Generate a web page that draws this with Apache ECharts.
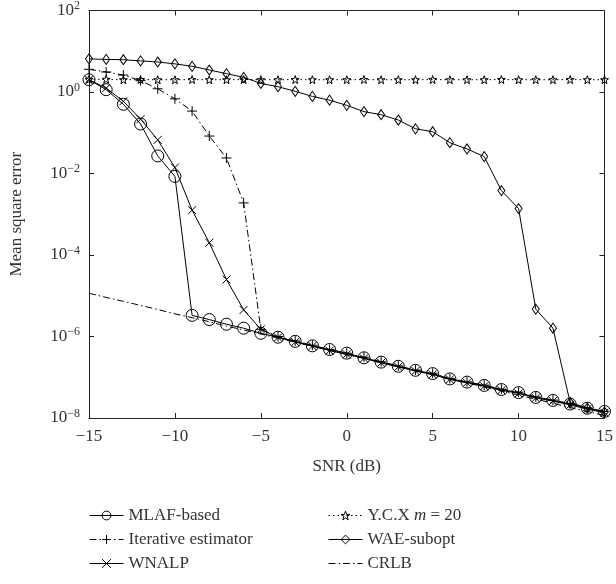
<!DOCTYPE html>
<html>
<head>
<meta charset="utf-8">
<script src="https://cdn.jsdelivr.net/npm/echarts@6/dist/echarts.min.js"></script>
<style>
html,body{margin:0;padding:0;background:#fff;}
#chart{width:616px;height:584px;}
</style>
</head>
<body>
<div id="chart"></div>
<script>
var snr = [-15,-14,-13,-12,-11,-10,-9,-8,-7,-6,-5,-4,-3,-2,-1,0,1,2,3,4,5,6,7,8,9,10,11,12,13,14,15];

var mlaf = [2.0,1.14,0.5,0.164,0.027,0.0085,3.3e-6,2.6e-6,2.0e-6,1.6e-6,1.2e-6,
  9.6e-7,7.6e-7,5.9e-7,4.8e-7,3.9e-7,3.0e-7,2.35e-7,1.86e-7,1.48e-7,1.23e-7,
  9.1e-8,7.6e-8,6.3e-8,5.0e-8,4.2e-8,3.2e-8,2.7e-8,2.2e-8,1.74e-8,1.45e-8];

var iterative = [3.6,3.1,2.6,1.9,1.2,0.68,0.34,0.083,0.024,0.0019,1.5e-6,
  1.0e-6,7.8e-7,6.1e-7,4.8e-7,3.9e-7,3.1e-7,2.4e-7,1.9e-7,1.5e-7,1.25e-7,
  9.3e-8,7.7e-8,6.4e-8,5.1e-8,4.3e-8,3.3e-8,2.75e-8,2.25e-8,1.78e-8,1.45e-8];

var wnalp = [2.0,1.25,0.59,0.216,0.067,0.014,1.26e-3,2.0e-4,2.5e-5,4.5e-6,1.5e-6,
  9.5e-7,7.3e-7,5.8e-7,4.5e-7,3.65e-7,2.9e-7,2.25e-7,1.8e-7,1.42e-7,1.17e-7,
  8.8e-8,7.3e-8,6.0e-8,4.8e-8,4.0e-8,3.1e-8,2.6e-8,2.1e-8,1.65e-8,1.35e-8];

var ycx = [2.05,2.05,2.0,2.02,2.0,2.0,2.02,2.0,2.0,2.02,2.0,2.0,2.02,2.0,2.0,2.0,
  2.02,2.0,2.0,2.0,2.02,2.0,2.0,2.0,2.02,2.0,2.0,2.0,2.02,2.0,2.0];

var wae = [6.5,6.3,6.2,5.8,5.45,4.9,4.27,3.47,2.82,2.29,1.62,1.35,1.04,0.78,0.63,0.47,
  0.33,0.277,0.205,0.125,0.106,0.057,0.040,0.026,0.0038,0.00138,4.7e-6,1.6e-6,2.4e-8,1.75e-8,1.4e-8];

var crlb = [1.15e-5,9.1e-6,7.3e-6,5.8e-6,4.6e-6,3.6e-6,2.9e-6,2.3e-6,1.8e-6,1.45e-6,1.15e-6,
  9.1e-7,7.3e-7,5.8e-7,4.6e-7,3.6e-7,2.9e-7,2.3e-7,1.8e-7,1.45e-7,1.15e-7,
  9.1e-8,7.3e-8,5.8e-8,4.6e-8,3.6e-8,2.9e-8,2.3e-8,1.8e-8,1.45e-8,1.15e-8];

var xTicks = [-15,-10,-5,0,5,10,15];
var yTickExps = [-8,-6,-4,-2,0,2];

var seriesNames = ['MLAF-based','Iterative estimator','WNALP','Y.C.X m = 20','WAE-subopt','CRLB'];

function pairs(ys){ return snr.map(function(x,i){ return [x, ys[i]]; }); }

var FONT = 'Liberation Serif';
var PLUS = 'path://M5,0L5,10M0,5L10,5';
var CROSS = 'path://M0,0L10,10M10,0L0,10';
var STAR = 'path://M10,0L12.35,6.76L19.51,6.91L13.8,11.24L15.88,18.09L10,14L4.12,18.09L6.2,11.24L0.49,6.91L7.65,6.76Z';

function mk(name, data, symbol, size, dash, z, hideMark){
  return {
    name: name, type: 'line', data: pairs(data),
    symbol: symbol, symbolSize: size, showSymbol: !hideMark,
    z: z || 2,
    lineStyle: {color: '#000', width: 1, type: dash},
    itemStyle: {color: 'rgba(0,0,0,0)', borderColor: hideMark ? 'rgba(0,0,0,0)' : '#000', borderWidth: hideMark ? 0 : 1},
    emphasis: {disabled: true},
    animation: false
  };
}

function supLabel(v){
  var e = Math.round(Math.log10(v));
  var s = e < 0 ? '\u2212' + (-e) : String(e);
  return '{b|10}{e|' + s + '}';
}

var axisLineX = {show: true, onZero: false, lineStyle: {color: '#222', width: 1}};
var axisLineY = {show: true, onZero: false, lineStyle: {color: '#222', width: 1}};
var richY = {
  b: {fontFamily: FONT, fontSize: 17, color: '#333'},
  e: {fontFamily: FONT, fontSize: 12, color: '#333', padding: [0,0,9,0]}
};
var legendText = {fontFamily: FONT, fontSize: 17, color: '#333',
  rich: {a: {fontFamily: FONT, fontSize: 17, color: '#333'},
         i: {fontFamily: FONT, fontSize: 17, fontStyle: 'italic', color: '#333'}}};

var chart = echarts.init(document.getElementById('chart'), null, {renderer: 'canvas'});
chart.setOption({
  backgroundColor: '#fff',
  animation: false,
  grid: {left: 89, right: 9, top: 10, bottom: 166, containLabel: false},
  legend: [
    {
      data: seriesNames.slice(0,3), orient: 'vertical', left: 89, top: 507,
      padding: 0, itemWidth: 34, itemHeight: 11, itemGap: 7,
      lineStyle: {width: 1}, itemStyle: {borderWidth: 1},
      textStyle: legendText, selectedMode: false
    },
    {
      data: seriesNames.slice(3), orient: 'vertical', left: 328, top: 507,
      padding: 0, itemWidth: 34, itemHeight: 11, itemGap: 7,
      lineStyle: {width: 1}, itemStyle: {borderWidth: 1},
      textStyle: legendText,
      formatter: function(n){
        if (n === 'Y.C.X m = 20') return '{a|Y.C.X }{i|m}{a| = 20}';
        return n;
      },
      selectedMode: false
    }
  ],
  xAxis: [
    {
      type: 'value', min: -15, max: 15, interval: 5,
      name: 'SNR (dB)', nameLocation: 'middle', nameGap: 40,
      nameTextStyle: {fontFamily: FONT, fontSize: 17, color: '#333'},
      axisLine: axisLineX,
      axisTick: {show: true, inside: true, length: 5, lineStyle: {color: '#222'}},
      axisLabel: {fontFamily: FONT, fontSize: 17, color: '#333', margin: 10,
        formatter: function(v){ return v < 0 ? '\u2212' + (-v) : String(v); }},
      splitLine: {show: false}
    },
    {
      type: 'value', min: -15, max: 15, interval: 5, position: 'top',
      axisLine: axisLineX,
      axisTick: {show: true, inside: true, length: 5, lineStyle: {color: '#222'}},
      axisLabel: {show: false}, splitLine: {show: false}
    }
  ],
  yAxis: [
    {
      type: 'log', logBase: 10, min: 1e-8, max: 100, interval: 2, position: 'left',
      name: 'Mean square error', nameLocation: 'middle', nameGap: 64,
      nameTextStyle: {fontFamily: FONT, fontSize: 17, color: '#333'},
      axisLine: axisLineY,
      axisTick: {show: true, inside: true, length: 5, lineStyle: {color: '#222'}},
      axisLabel: {margin: 9, formatter: supLabel, rich: richY},
      splitLine: {show: false}, minorTick: {show: false}
    },
    {
      type: 'log', logBase: 10, min: 1e-8, max: 100, interval: 2, position: 'right',
      axisLine: axisLineY,
      axisTick: {show: true, inside: true, length: 5, lineStyle: {color: '#222'}},
      axisLabel: {show: false}, splitLine: {show: false}
    }
  ],
  series: [
    mk(seriesNames[0], mlaf, 'circle', 12, 'solid', 3),
    mk(seriesNames[1], iterative, PLUS, 10, [7,3,1.5,3], 3),
    mk(seriesNames[2], wnalp, CROSS, 8, 'solid', 3),
    mk(seriesNames[3], ycx, STAR, 8, [1.5,3], 3),
    mk(seriesNames[4], wae, 'diamond', [7,10], 'solid', 3),
    mk(seriesNames[5], crlb, 'circle', 1, [7,3,1.5,3], 2, true)
  ]
});
</script>
</body>
</html>
